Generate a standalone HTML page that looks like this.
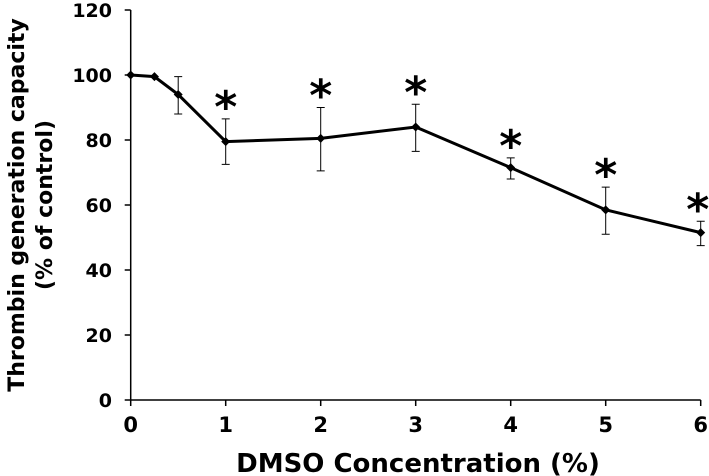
<!DOCTYPE html>
<html><head><meta charset="utf-8"><style>
body{margin:0;background:#fff;}
svg{display:block;font-family:"DejaVu Sans","Liberation Sans",sans-serif;font-weight:bold;}
</style></head><body>
<svg id="chart" width="709" height="476"></svg>
<script>
const xValues=[0,0.25,0.5,1,2,3,4,5,6];
const yValues=[100,99.5,94,79.5,80.5,84,71.5,58.5,51.5];
const errLow=[null,null,88,72.5,70.5,76.5,68,51,47.5];
const errHigh=[null,null,99.5,86.5,90,91,74.5,65.5,55];
const starX=[1,2,3,4,5,6];
const xTicks=[0,1,2,3,4,5,6];
const yTicks=[0,20,40,60,80,100,120];
const NS="http://www.w3.org/2000/svg";
const svg=document.getElementById('chart');
const X=v=>130.7+v*95;
const Y=v=>400-v*3.25;
function mk(t,a,p){const e=document.createElementNS(NS,t);for(const k in a)e.setAttribute(k,a[k]);(p||svg).appendChild(e);return e;}
let ax=mk('line',{x1:X(0),y1:Y(0),x2:X(6),y2:Y(0),stroke:'#000','stroke-width':1.5});


let ay=mk('line',{x1:X(0),y1:Y(0),x2:X(0),y2:Y(120),stroke:'#000','stroke-width':1.5});


xTicks.forEach(v=>{
 mk('line',{x1:X(v),y1:Y(0),x2:X(v),y2:Y(0)+6,stroke:'#000','stroke-width':1.5});
 const t=mk('text',{x:X(v),y:432,'text-anchor':'middle','font-size':21});t.textContent=v;
 
 
});
yTicks.forEach(v=>{
 mk('line',{x1:X(0)-6,y1:Y(v),x2:X(0),y2:Y(v),stroke:'#000','stroke-width':1.5});
 const t=mk('text',{x:112,y:Y(v)+7,'text-anchor':'end','font-size':19});t.textContent=v;
 
 
});
xValues.forEach((x,i)=>{
 if(errLow[i]==null)return;
 const g=mk('g',{stroke:'#000','stroke-width':1});
 
 
 mk('line',{x1:X(x),y1:Y(errLow[i]),x2:X(x),y2:Y(errHigh[i])},g);
 mk('line',{x1:X(x)-4,y1:Y(errLow[i]),x2:X(x)+4,y2:Y(errLow[i])},g);
 mk('line',{x1:X(x)-4,y1:Y(errHigh[i]),x2:X(x)+4,y2:Y(errHigh[i])},g);
});
const pl=mk('polyline',{points:xValues.map((x,i)=>X(x)+','+Y(yValues[i])).join(' '),fill:'none',stroke:'#000','stroke-width':3});


xValues.forEach((x,i)=>{
 const p=mk('path',{d:`M${X(x)-4.5},${Y(yValues[i])} L${X(x)},${Y(yValues[i])-4.5} L${X(x)+4.5},${Y(yValues[i])} L${X(x)},${Y(yValues[i])+4.5}Z`,fill:'#000'});
 
 
});
starX.forEach(x=>{
 const i=xValues.indexOf(x);
 const t=mk('text',{x:X(x)-(x==6?3:0),y:Y(errHigh[i])+3,'text-anchor':'middle','font-size':44});t.textContent='*';
 
 
});
let xt=mk('text',{x:418,y:472,'text-anchor':'middle','font-size':26});xt.textContent='DMSO Concentration (%)';


let yt=mk('text',{transform:'translate(24,205) rotate(-90)','text-anchor':'middle','font-size':22});


const s1=mk('tspan',{x:0,y:0},yt);s1.textContent='Thrombin generation capacity';
const s2=mk('tspan',{x:0,y:28},yt);s2.textContent='(% of control)';
</script>
</body></html>
